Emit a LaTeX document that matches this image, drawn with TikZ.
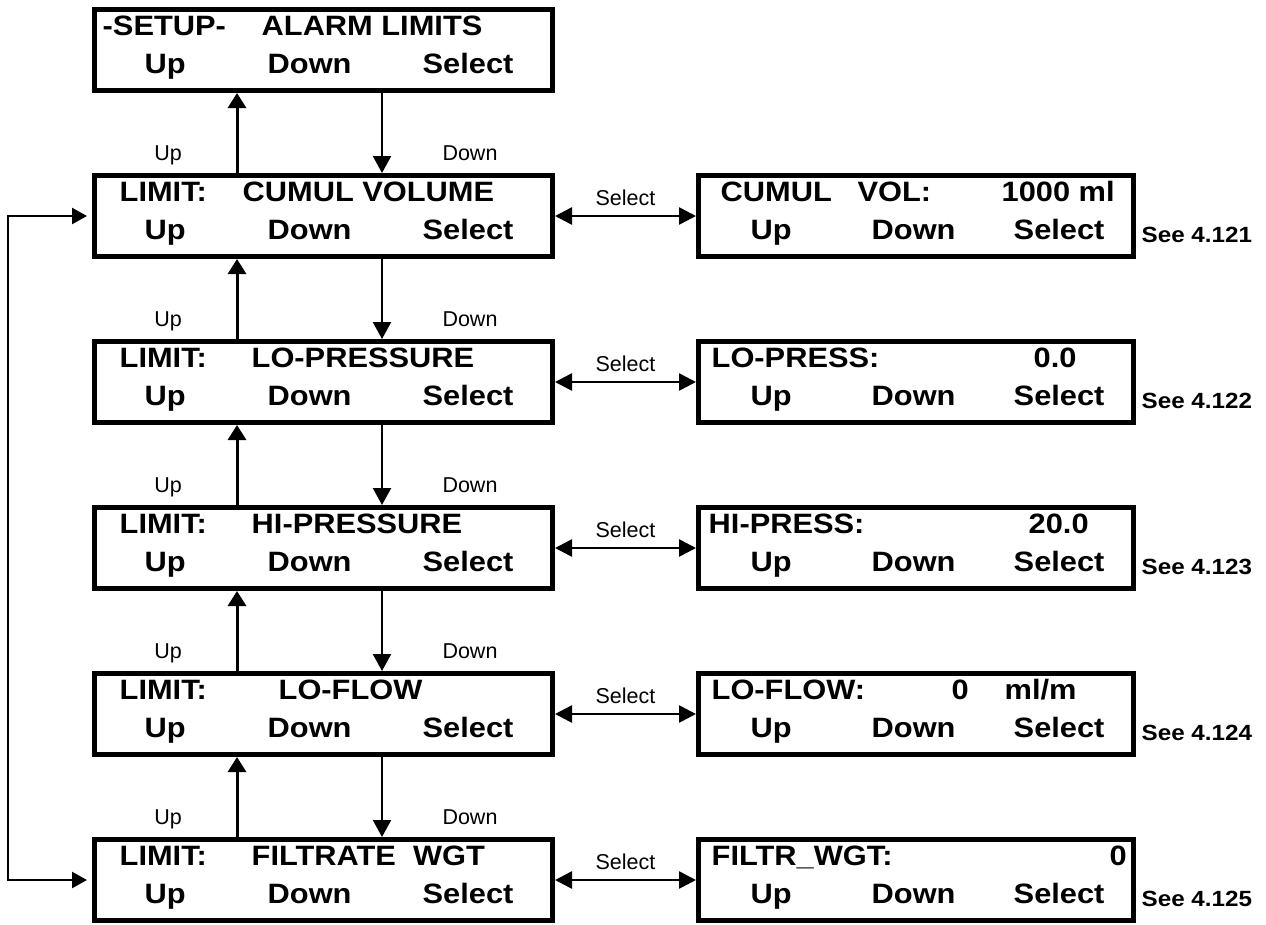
\documentclass[tikz,border=0pt]{standalone}
\usepackage{fontspec}
\setmainfont{Liberation Sans}
\newfontfamily\lcdfont[FakeStretch=1.1]{Liberation Sans}
\usetikzlibrary{arrows.meta,positioning}

\begin{document}
\begin{tikzpicture}[
x=1pt, y=-1pt,
screen/.style={draw, line width=5pt, inner sep=0pt, minimum height=81pt},
lscreen/.style={screen, minimum width=458pt},
rscreen/.style={screen, minimum width=435pt},
lcd/.style={anchor=base west, inner sep=0pt, font=\lcdfont\bfseries\fontsize{28}{30}\selectfont},
keylabel/.style={anchor=base, inner sep=0pt, font=\fontsize{21.5}{24}\selectfont},
seeref/.style={anchor=base west, inner sep=0pt, font=\lcdfont\bfseries\fontsize{22}{24}\selectfont},
uparrow/.style={line width=3pt, -{Triangle[length=15pt,width=18pt]}},
downarrow/.style={line width=2.3pt, -{Triangle[length=17pt,width=18pt]}},
selarrow/.style={line width=2.6pt, {Triangle[length=17pt,width=17pt]}-{Triangle[length=17pt,width=17pt]}},
backarrow/.style={line width=2.3pt, {Triangle[length=15pt,width=16pt]}-{Triangle[length=15pt,width=16pt]}, shorten <=5pt, shorten >=5pt}
]

\useasboundingbox (0,0) rectangle (1266,924);

%%%%%%%%%%%%%%%%%%%%%%%%%%%%%%%%%%%%%%%%%%%%%%%%%%%%%%
% MENU SCREENS (LEFT)
%%%%%%%%%%%%%%%%%%%%%%%%%%%%%%%%%%%%%%%%%%%%%%%%%%%%%%

\node[lscreen](setup) at (323.5,50) {};
\node[lscreen](cumul) at (323.5,216) {};
\node[lscreen](lopress) at (323.5,382) {};
\node[lscreen](hipress) at (323.5,548) {};
\node[lscreen](loflow) at (323.5,714) {};
\node[lscreen](filtr) at (323.5,880) {};

\node[lcd](setup-a) at ([xshift=10.5pt,yshift=-28.5pt]setup.north west) {-SETUP-};
\node[lcd](setup-b) at ([xshift=169.5pt,yshift=-28.5pt]setup.north west) {ALARM LIMITS};

\node[lcd](cumul-a) at ([xshift=27.5pt,yshift=-28.5pt]cumul.north west) {LIMIT:};
\node[lcd](cumul-b) at ([xshift=150.5pt,yshift=-28.5pt]cumul.north west) {CUMUL VOLUME};

\node[lcd](lopress-a) at ([xshift=27.5pt,yshift=-28.5pt]lopress.north west) {LIMIT:};
\node[lcd](lopress-b) at ([xshift=159.5pt,yshift=-28.5pt]lopress.north west) {LO-PRESSURE};

\node[lcd](hipress-a) at ([xshift=27.5pt,yshift=-28.5pt]hipress.north west) {LIMIT:};
\node[lcd](hipress-b) at ([xshift=159.5pt,yshift=-28.5pt]hipress.north west) {HI-PRESSURE};

\node[lcd](loflow-a) at ([xshift=27.5pt,yshift=-28.5pt]loflow.north west) {LIMIT:};
\node[lcd](loflow-b) at ([xshift=186.5pt,yshift=-28.5pt]loflow.north west) {LO-FLOW};

\node[lcd](filtr-a) at ([xshift=27.5pt,yshift=-28.5pt]filtr.north west) {LIMIT:};
\node[lcd](filtr-b) at ([xshift=159.5pt,yshift=-28.5pt]filtr.north west) {FILTRATE~~WGT};

\foreach \s in {setup,cumul,lopress,hipress,loflow,filtr}{
  \node[lcd](\s-up) at ([xshift=52.5pt,yshift=-66.5pt]\s.north west) {Up};
  \node[lcd](\s-down) at ([xshift=175.5pt,yshift=-66.5pt]\s.north west) {Down};
  \node[lcd](\s-sel) at ([xshift=330.5pt,yshift=-66.5pt]\s.north west) {Select};
}

%%%%%%%%%%%%%%%%%%%%%%%%%%%%%%%%%%%%%%%%%%%%%%%%%%%%%%
% VALUE SCREENS (RIGHT)
%%%%%%%%%%%%%%%%%%%%%%%%%%%%%%%%%%%%%%%%%%%%%%%%%%%%%%

\node[rscreen](cumulval) at (916,216) {};
\node[rscreen](lopressval) at (916,382) {};
\node[rscreen](hipressval) at (916,548) {};
\node[rscreen](loflowval) at (916,714) {};
\node[rscreen](filtrval) at (916,880) {};

\node[lcd](cumulval-a) at ([xshift=24.5pt,yshift=-28.5pt]cumulval.north west) {CUMUL~~~VOL:};
\node[lcd](cumulval-b) at ([xshift=305.5pt,yshift=-28.5pt]cumulval.north west) {1000 ml};

\node[lcd](lopressval-a) at ([xshift=15.5pt,yshift=-28.5pt]lopressval.north west) {LO-PRESS:};
\node[lcd](lopressval-b) at ([xshift=337.5pt,yshift=-28.5pt]lopressval.north west) {0.0};

\node[lcd](hipressval-a) at ([xshift=12.5pt,yshift=-28.5pt]hipressval.north west) {HI-PRESS:};
\node[lcd](hipressval-b) at ([xshift=332.5pt,yshift=-28.5pt]hipressval.north west) {20.0};

\node[lcd](loflowval-a) at ([xshift=15.5pt,yshift=-28.5pt]loflowval.north west) {LO-FLOW:};
\node[lcd](loflowval-b) at ([xshift=255.5pt,yshift=-28.5pt]loflowval.north west) {0};
\node[lcd](loflowval-c) at ([xshift=308.5pt,yshift=-28.5pt]loflowval.north west) {ml/m};

\node[lcd](filtrval-a) at ([xshift=15.5pt,yshift=-28.5pt]filtrval.north west) {FILTR\_WGT:};
\node[lcd](filtrval-b) at ([xshift=413.5pt,yshift=-28.5pt]filtrval.north west) {0};

\foreach \s/\n in {cumulval/121,lopressval/122,hipressval/123,loflowval/124,filtrval/125}{
  \node[lcd](\s-up) at ([xshift=54.5pt,yshift=-66.5pt]\s.north west) {Up};
  \node[lcd](\s-down) at ([xshift=175.5pt,yshift=-66.5pt]\s.north west) {Down};
  \node[lcd](\s-sel) at ([xshift=317.5pt,yshift=-66.5pt]\s.north west) {Select};
  \node[seeref](\s-see) at ([xshift=5.5pt,yshift=-26.5pt]\s.east) {See 4.\n};
}

%%%%%%%%%%%%%%%%%%%%%%%%%%%%%%%%%%%%%%%%%%%%%%%%%%%%%%
% UP / DOWN
%%%%%%%%%%%%%%%%%%%%%%%%%%%%%%%%%%%%%%%%%%%%%%%%%%%%%%

\foreach \upbox/\dnbox in {setup/cumul,cumul/lopress,lopress/hipress,hipress/loflow,loflow/filtr}{
  \draw[uparrow] ([xshift=-86.5pt]\dnbox.north) -- ([xshift=-86.5pt]\upbox.south);
  \draw[downarrow] ([xshift=58.5pt]\upbox.south) -- ([xshift=58.5pt]\dnbox.north);
  \node[keylabel](\dnbox-uplbl) at ([xshift=-155.5pt,yshift=12.5pt]\dnbox.north) {Up};
  \node[keylabel](\dnbox-downlbl) at ([xshift=146.5pt,yshift=12.5pt]\dnbox.north) {Down};
}

%%%%%%%%%%%%%%%%%%%%%%%%%%%%%%%%%%%%%%%%%%%%%%%%%%%%%%
% SELECT
%%%%%%%%%%%%%%%%%%%%%%%%%%%%%%%%%%%%%%%%%%%%%%%%%%%%%%

\foreach \a/\b in {cumul/cumulval,lopress/lopressval,hipress/hipressval,loflow/loflowval,filtr/filtrval}{
  \draw[selarrow] (\a.east) -- node[keylabel, yshift=11pt](\a-sellbl){Select} (\b.west);
}

%%%%%%%%%%%%%%%%%%%%%%%%%%%%%%%%%%%%%%%%%%%%%%%%%%%%%%
% WRAP AROUND
%%%%%%%%%%%%%%%%%%%%%%%%%%%%%%%%%%%%%%%%%%%%%%%%%%%%%%

\coordinate (backtop) at (8,216);
\coordinate (backbot) at (8,880);

\draw[backarrow] (cumul.west) -- (backtop) -- (backbot) -- (filtr.west);

\end{tikzpicture}
\end{document}
